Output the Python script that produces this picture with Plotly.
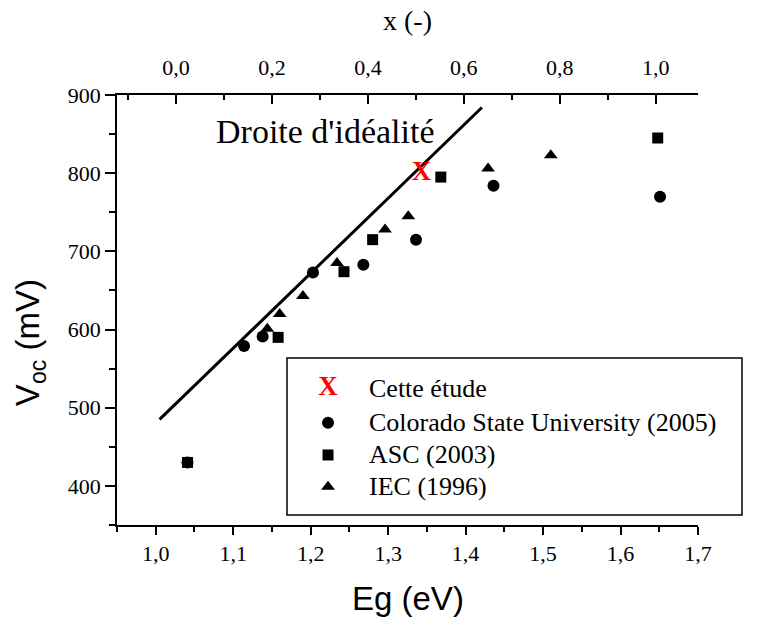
import plotly.graph_objects as go

# ---- data ----
eg_csu = [1.041, 1.114, 1.138, 1.203, 1.268, 1.336, 1.436, 1.651]
voc_csu = [430, 579, 591, 673, 683, 715, 784, 770]

eg_asc = [1.041, 1.158, 1.243, 1.280, 1.368, 1.648]
voc_asc = [430, 590, 674, 715, 795, 845]

eg_iec = [1.144, 1.160, 1.190, 1.234, 1.296, 1.326, 1.429, 1.510]
voc_iec = [601, 620, 643, 685, 728, 745, 806, 823]

eg_etude = [1.343]
voc_etude = [800]

eg_ideal = [1.005, 1.421]
voc_ideal = [485, 884]

legend_labels = ["Cette étude", "Colorado State University (2005)", "ASC (2003)", "IEC (1996)"]
ideal_label = "Droite d'idéalité"

SERIF = "Liberation Serif"
SANS = "Liberation Sans"

fig = go.Figure()

fig.add_trace(go.Scatter(x=eg_ideal, y=voc_ideal, mode="lines",
                         line=dict(color="black", width=3), hoverinfo="skip"))
fig.add_trace(go.Scatter(x=eg_csu, y=voc_csu, mode="markers",
                         marker=dict(symbol="circle", size=12, color="black")))
fig.add_trace(go.Scatter(x=eg_asc, y=voc_asc, mode="markers",
                         marker=dict(symbol="square", size=11, color="black")))
fig.add_trace(go.Scatter(x=eg_iec, y=voc_iec, mode="markers",
                         marker=dict(symbol="triangle-up", size=12, color="black")))
fig.add_trace(go.Scatter(x=eg_etude, y=voc_etude, mode="text", text=["<b>X</b>"],
                         textposition="middle center",
                         textfont=dict(family=SERIF, size=27, color="red")))
# invisible trace to anchor the top axis
fig.add_trace(go.Scatter(x=[0, 1], y=[None, None], xaxis="x2", yaxis="y",
                         mode="markers", marker=dict(opacity=0), hoverinfo="skip"))

# ---- hand-made legend ----
leg_x = 0.3632
leg_text_x = 0.4303
leg_rows = [0.3186, 0.2379, 0.1628, 0.0891]
fig.add_trace(go.Scatter(x=[leg_x], y=[leg_rows[0]], xaxis="x3", yaxis="y3", mode="text",
                         text=["<b>X</b>"], textposition="middle center",
                         textfont=dict(family=SERIF, size=27, color="red"), cliponaxis=False))
for sym, sz, row in [("circle", 12, leg_rows[1]), ("square", 11, leg_rows[2]),
                     ("triangle-up", 12, leg_rows[3])]:
    fig.add_trace(go.Scatter(x=[leg_x], y=[row], xaxis="x3", yaxis="y3", mode="markers",
                             marker=dict(symbol=sym, size=sz, color="black"), cliponaxis=False))

annotations = []
for lab, row in zip(legend_labels, leg_rows):
    annotations.append(dict(x=leg_text_x, y=row, xref="paper", yref="paper", text=lab,
                            showarrow=False, xanchor="left", yanchor="middle",
                            font=dict(family=SERIF, size=26, color="black")))

annotations.append(dict(x=1.219, y=853, xref="x", yref="y", text=ideal_label, showarrow=False,
                        xanchor="center", yanchor="middle",
                        font=dict(family=SERIF, size=34, color="black")))
annotations.append(dict(x=0.5, y=-0.17, xref="paper", yref="paper", text="Eg (eV)",
                        showarrow=False, xanchor="center", yanchor="middle",
                        font=dict(family=SANS, size=33, color="black")))
annotations.append(dict(x=-0.1497, y=0.423, xref="paper", yref="paper",
                        text="V<sub>oc</sub> (mV)", textangle=-90, showarrow=False,
                        xanchor="center", yanchor="middle",
                        font=dict(family=SANS, size=33, color="black")))
annotations.append(dict(x=0.5, y=1.1744, xref="paper", yref="paper", text="x (-)",
                        showarrow=False, xanchor="center", yanchor="middle",
                        font=dict(family=SERIF, size=28, color="black")))

shapes = [dict(type="rect", xref="paper", yref="paper", x0=0.2926, x1=1.0757,
               y0=0.02326, y1=0.3884, line=dict(color="black", width=1.5),
               fillcolor="rgba(0,0,0,0)")]

fig.update_layout(
    width=760, height=618,
    margin=dict(l=117, r=62, t=95, b=93),
    paper_bgcolor="white", plot_bgcolor="white",
    showlegend=False,
    separators=", ",
    font=dict(family=SERIF, size=22, color="black"),
    xaxis=dict(range=[0.95, 1.7], dtick=0.1, tick0=1.0, tickformat=".1f",
               ticks="outside", ticklen=8, tickwidth=1.5, tickcolor="black",
               showline=True, linecolor="black", linewidth=1.5, showgrid=False,
               zeroline=False, tickfont=dict(family=SERIF, size=22),
               minor=dict(ticks="outside", ticklen=5, dtick=0.05, tick0=0.95,
                          tickwidth=1.5, tickcolor="black", showgrid=False)),
    xaxis2=dict(overlaying="x", side="top", range=[-0.1227, 1.0878], dtick=0.2, tick0=0,
                tickformat=".1f", ticks="inside", ticklen=9, tickwidth=1.5, tickcolor="black",
                showline=True, linecolor="black", linewidth=1.5, showgrid=False,
                zeroline=False, tickfont=dict(family=SERIF, size=22), ticklabelstandoff=9,
                minor=dict(ticks="inside", ticklen=5, dtick=0.1, tick0=0,
                           tickwidth=1.5, tickcolor="black", showgrid=False)),
    yaxis=dict(range=[350, 900], dtick=100, tick0=400,
               ticks="outside", ticklen=10, tickwidth=1.5, tickcolor="black",
               showline=True, linecolor="black", linewidth=1.5, showgrid=False,
               zeroline=False, tickfont=dict(family=SERIF, size=22),
               minor=dict(ticks="outside", ticklen=6, dtick=50, tick0=350,
                          tickwidth=1.5, tickcolor="black", showgrid=False)),
    xaxis3=dict(overlaying="x", range=[0, 1], visible=False),
    yaxis3=dict(overlaying="y", range=[0, 1], visible=False),
    annotations=annotations,
    shapes=shapes,
)

fig.write_html("out.html")
